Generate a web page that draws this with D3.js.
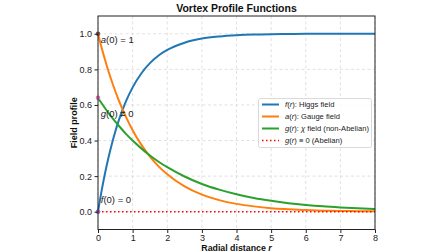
<!DOCTYPE html>
<html>
<head>
<meta charset="utf-8">
<script src="https://cdn.jsdelivr.net/npm/d3@7"></script>
<style>
  body { margin: 0; background: #fff; }
  svg { display: block; font-family: "Liberation Sans", Arial, sans-serif; }
</style>
</head>
<body>
<svg id="svg" width="448" height="252"></svg>
<script>
//Data
const R_VALUES = [0, 0.1, 0.2, 0.3, 0.4, 0.5, 0.6, 0.8, 1.0, 1.25, 1.5, 1.75, 2, 2.5, 3, 3.5, 4, 4.5, 5, 5.5, 6, 6.5, 7, 7.5, 8];
const F_VALUES = [0, 0.113, 0.213, 0.302, 0.381, 0.451, 0.513, 0.617, 0.699, 0.777, 0.835, 0.878, 0.909, 0.950, 0.973, 0.985, 0.992, 0.996, 0.998, 0.999, 1.0, 1.0, 1.0, 1.0, 1.0];
const A_VALUES = [1, 0.925, 0.856, 0.791, 0.732, 0.677, 0.626, 0.536, 0.458, 0.377, 0.310, 0.255, 0.210, 0.142, 0.096, 0.065, 0.044, 0.030, 0.020, 0.014, 0.009, 0.006, 0.004, 0.003, 0.002];
const G_VALUES = [0.640, 0.611, 0.583, 0.556, 0.530, 0.506, 0.483, 0.439, 0.400, 0.356, 0.316, 0.281, 0.250, 0.198, 0.156, 0.124, 0.098, 0.077, 0.061, 0.048, 0.038, 0.030, 0.024, 0.019, 0.015];
const X_TICKS = [0, 1, 2, 3, 4, 5, 6, 7, 8];
const Y_TICKS = [0.0, 0.2, 0.4, 0.6, 0.8, 1.0];
const ORIGIN_POINTS = [[0, 1, "#8c564b"], [0, 0.64, "#e377c2"], [0, 0, "#9467bd"]];

const SVG = d3.select("#svg");
const LEFT = 98, RIGHT = 375, TOP = 16, BOTTOM = 229.5;

let x_scale = d3.scaleLinear().domain([0, 8]).range([LEFT, RIGHT]);
let y_scale = d3.scaleLinear().domain([-0.1, 1.1]).range([BOTTOM, TOP]);

//Grid
let grid = SVG.append("g");
grid.selectAll(".gx").data(X_TICKS).enter().append("line")
    .attr("x1", d => x_scale(d)).attr("x2", d => x_scale(d))
    .attr("y1", TOP).attr("y2", BOTTOM)
    .attr("stroke", "#d9d9d9").attr("stroke-width", 0.8).attr("stroke-dasharray", "3,2.5");
grid.selectAll(".gy").data(Y_TICKS).enter().append("line")
    .attr("x1", LEFT).attr("x2", RIGHT)
    .attr("y1", d => y_scale(d)).attr("y2", d => y_scale(d))
    .attr("stroke", "#d9d9d9").attr("stroke-width", 0.8).attr("stroke-dasharray", "3,2.5");

//Lines
let rows = R_VALUES.map((r, i) => ({r: r, f: F_VALUES[i], a: A_VALUES[i], g: G_VALUES[i]}));
function lineFor(key) {
    return d3.line().x(d => x_scale(d.r)).y(d => y_scale(d[key])).curve(d3.curveMonotoneX);
}
let plot = SVG.append("g");
plot.append("path").datum(rows).attr("d", lineFor("f")).attr("fill", "none").attr("stroke", "#1f77b4").attr("stroke-width", 2);
plot.append("path").datum(rows).attr("d", lineFor("a")).attr("fill", "none").attr("stroke", "#ff7f0e").attr("stroke-width", 2);
plot.append("path").datum(rows).attr("d", lineFor("g")).attr("fill", "none").attr("stroke", "#2ca02c").attr("stroke-width", 2);
plot.append("line")
    .attr("x1", x_scale(0)).attr("x2", x_scale(8))
    .attr("y1", y_scale(0)).attr("y2", y_scale(0))
    .attr("stroke", "#ff0000").attr("stroke-width", 1.5).attr("stroke-dasharray", "1.5,2.5");

//Origin markers
plot.selectAll("circle").data(ORIGIN_POINTS).enter().append("circle")
    .attr("cx", d => x_scale(d[0])).attr("cy", d => y_scale(d[1]))
    .attr("r", 2.3).attr("fill", d => d[2]);

//Annotations
const NOTES = [[0.08, 0.965, "a", " = 1"], [0.08, 0.55, "g", " ≠ 0"], [0.08, 0.065, "f", " = 0"]];
NOTES.forEach(n => {
    let t = SVG.append("text").attr("x", x_scale(n[0])).attr("y", y_scale(n[1]))
        .attr("dominant-baseline", "middle").attr("font-size", 9.5).attr("fill", "#222");
    t.append("tspan").attr("font-style", "italic").text(n[2]);
    t.append("tspan").text("(0)" + n[3]);
});

//Axes
let x_axis = d3.axisBottom(x_scale).tickValues(X_TICKS).tickSize(3.5).tickPadding(1.5).tickFormat(d3.format("d"));
let y_axis = d3.axisLeft(y_scale).tickValues(Y_TICKS).tickSize(3.5).tickPadding(2.5).tickFormat(d3.format(".1f"));
let gx = SVG.append("g").attr("transform", "translate(0," + BOTTOM + ")").call(x_axis);
let gy = SVG.append("g").attr("transform", "translate(" + LEFT + ",0)").call(y_axis);
[gx, gy].forEach(g => {
    g.select(".domain").remove();
    g.selectAll("text").attr("font-size", 9).attr("fill", "#222").attr("font-family", "Liberation Sans, Arial, sans-serif");
    g.selectAll("line").attr("stroke", "#222");
});

//Frame
SVG.append("rect").attr("x", LEFT).attr("y", TOP).attr("width", RIGHT - LEFT).attr("height", BOTTOM - TOP)
    .attr("fill", "none").attr("stroke", "#222").attr("stroke-width", 1);

//Labels
SVG.append("text").attr("x", (LEFT + RIGHT) / 2).attr("y", 11.5).attr("text-anchor", "middle")
    .attr("font-size", 10.5).attr("font-weight", "bold").attr("fill", "#111").text("Vortex Profile Functions");
let xl = SVG.append("text").attr("x", (LEFT + RIGHT) / 2).attr("y", 251).attr("text-anchor", "middle")
    .attr("font-size", 8.8).attr("font-weight", "bold").attr("fill", "#111");
xl.append("tspan").text("Radial distance ");
xl.append("tspan").attr("font-style", "italic").text("r");
SVG.append("text").attr("transform", "translate(77," + ((TOP + BOTTOM) / 2) + ") rotate(-90)")
    .attr("text-anchor", "middle").attr("font-size", 9).attr("font-weight", "bold").attr("fill", "#111").text("Field profile");

//Legend
const LEGEND_ITEMS = [
    {color: "#1f77b4", dash: null, parts: [["f", true], ["(", false], ["r", true], ["): Higgs field", false]]},
    {color: "#ff7f0e", dash: null, parts: [["a", true], ["(", false], ["r", true], ["): Gauge field", false]]},
    {color: "#2ca02c", dash: null, parts: [["g", true], ["(", false], ["r", true], ["): ", false], ["χ", true], [" field (non-Abelian)", false]]},
    {color: "#ff0000", dash: "1.5,2.5", parts: [["g", true], ["(", false], ["r", true], [") ≡ 0 (Abelian)", false]]}
];
let legend = SVG.append("g");
legend.append("rect").attr("x", 258.5).attr("y", 98.5).attr("width", 113).attr("height", 49).attr("rx", 2)
    .attr("fill", "#fff").attr("fill-opacity", 0.85).attr("stroke", "#d0d0d0").attr("stroke-width", 0.8);
LEGEND_ITEMS.forEach((item, i) => {
    let y = 104.5 + i * 12;
    legend.append("line").attr("x1", 262).attr("x2", 279).attr("y1", y).attr("y2", y)
        .attr("stroke", item.color).attr("stroke-width", item.dash ? 1.5 : 2).attr("stroke-dasharray", item.dash);
    let t = legend.append("text").attr("x", 285).attr("y", y).attr("dominant-baseline", "middle")
        .attr("font-size", 7.6).attr("fill", "#222");
    item.parts.forEach(p => t.append("tspan").attr("font-style", p[1] ? "italic" : null).text(p[0]));
});
</script>
</body>
</html>
